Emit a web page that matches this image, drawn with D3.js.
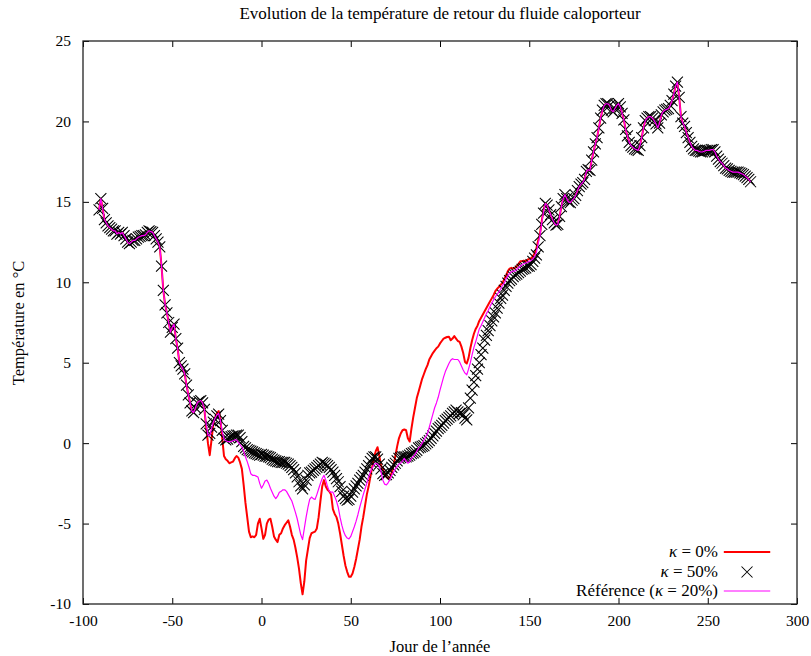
<!DOCTYPE html>
<html><head><meta charset="utf-8">
<script src="https://cdn.jsdelivr.net/npm/d3@7"></script>
<style>
body{margin:0;background:#fff}
svg{display:block}
text{font-family:"Liberation Serif","DejaVu Serif",serif;fill:#000}
</style>
</head><body>
<svg id="c" width="811" height="656"></svg>
<script>
// ---- data ----
const startDay = -91;
// kappa = 50% (crosses), one value per day from day -91
const kappa50 = [
14.5,15.2,14.6,13.9,13.7,13.5,13.4,13.3,13.2,13.2,
13.0,13.1,13.0,13.1,12.9,12.7,12.5,12.4,12.5,12.6,
12.6,12.7,12.8,12.85,12.9,12.9,12.95,13.1,13.2,13.15,
13.1,12.9,12.7,12.5,12.2,11.0,9.5,8.6,8.1,7.5,
6.9,7.2,7.4,6.5,5.9,5.0,4.8,4.6,4.3,3.6,
3.0,2.5,2.0,1.9,2.2,2.5,2.6,2.65,2.5,2.1,
1.2,0.5,0.6,1.0,1.3,1.5,1.7,1.8,1.4,0.8,
0.3,0.2,0.25,0.35,0.4,0.45,0.45,0.5,0.5,0.35,
0.1,-0.2,-0.3,-0.4,-0.45,-0.5,-0.55,-0.6,-0.65,-0.7,
-0.75,-0.7,-0.75,-0.8,-0.8,-0.85,-0.9,-1.0,-1.05,-1.1,
-1.15,-1.15,-1.2,-1.2,-1.2,-1.25,-1.3,-1.4,-1.5,-1.65,
-1.85,-2.1,-2.4,-2.65,-2.85,-2.6,-2.3,-2.0,-1.85,-1.8,
-1.7,-1.6,-1.5,-1.4,-1.3,-1.2,-1.25,-1.3,-1.4,-1.5,
-1.65,-1.8,-2.0,-2.2,-2.4,-2.7,-3.0,-3.3,-3.45,-3.55,
-3.5,-3.3,-3.05,-2.85,-2.65,-2.5,-2.3,-2.15,-2.0,-1.8,
-1.6,-1.4,-1.15,-0.95,-0.85,-0.85,-1.0,-1.3,-1.6,-1.9,
-2.0,-1.95,-1.85,-1.7,-1.5,-1.35,-1.25,-1.1,-0.95,-0.9,
-0.85,-0.85,-0.85,-0.8,-0.75,-0.65,-0.6,-0.55,-0.45,-0.3,
-0.25,-0.2,-0.15,-0.05,0.05,0.15,0.3,0.45,0.6,0.75,
0.9,1.0,1.1,1.25,1.4,1.5,1.6,1.7,1.85,1.95,
2.05,1.95,1.85,1.9,1.75,1.55,1.45,2.2,2.8,3.3,
3.8,4.2,4.6,5.0,5.5,5.9,6.4,6.7,7.0,7.3,
7.6,7.85,8.1,8.4,8.7,9.0,9.2,9.5,9.75,9.95,
10.1,10.2,10.35,10.45,10.5,10.6,10.7,10.8,10.85,10.9,
11.0,11.0,11.1,11.3,11.5,11.7,12.2,12.9,13.6,14.3,
14.9,14.8,14.5,14.2,13.9,13.7,13.55,13.6,14.1,14.7,
15.2,15.45,15.2,15.0,14.95,15.1,15.2,15.4,15.7,15.95,
16.1,16.2,16.4,16.9,17.0,16.95,17.6,18.1,18.6,19.0,
19.6,20.2,20.7,21.0,21.1,21.1,21.0,20.7,20.6,20.8,
21.0,21.1,20.9,20.5,20.1,19.5,19.1,18.7,18.5,18.4,
18.3,18.25,18.2,18.5,19.0,19.6,20.05,20.2,20.3,20.3,
20.2,20.05,19.85,19.6,19.9,20.4,20.6,20.7,20.75,20.8,
21.0,21.3,21.7,22.2,22.45,21.5,20.3,19.9,19.7,19.3,
19.0,18.7,18.45,18.3,18.2,18.2,18.15,18.1,18.1,18.15,
18.2,18.2,18.2,18.25,18.25,18.1,17.85,17.65,17.5,17.4,
17.25,17.1,17.05,16.95,16.9,16.85,16.85,16.85,16.85,16.8,
16.75,16.7,16.6,16.5,16.4,16.25
];
// days where the three curves differ (from day -32 to day 158)
const divStart = -32;
// kappa = 0% (red line)
const kappa0Div = [
2.1,1.0,0.0,-0.75,0.2,1.2,1.6,1.85,2.0,1.5,
0.3,-0.8,-1.0,-1.1,-1.25,-1.2,-1.15,-0.95,-0.8,-0.9,
-1.2,-1.6,-2.6,-3.7,-4.6,-5.5,-5.85,-5.8,-5.85,-5.7,
-5.0,-4.7,-5.3,-5.95,-5.7,-5.0,-4.75,-4.7,-5.2,-5.8,
-6.0,-6.15,-5.7,-5.6,-5.3,-5.1,-4.95,-4.8,-5.2,-5.7,
-6.0,-6.5,-7.1,-7.8,-8.7,-9.4,-8.6,-7.3,-6.6,-5.9,
-5.6,-5.55,-5.5,-5.3,-4.6,-3.6,-2.7,-2.3,-2.7,-2.9,
-3.0,-3.2,-4.1,-4.4,-4.6,-5.0,-5.6,-6.3,-7.0,-7.6,
-8.0,-8.3,-8.3,-8.1,-7.7,-7.2,-6.6,-6.0,-5.2,-4.6,
-3.9,-3.2,-2.7,-2.1,-1.5,-0.9,-0.5,-0.25,-0.8,-1.4,
-1.6,-1.9,-2.1,-2.2,-2.15,-1.8,-1.4,-0.8,-0.2,0.3,
0.6,0.8,0.85,0.8,0.3,0.1,0.9,1.6,2.2,2.8,
3.2,3.6,4.0,4.3,4.6,4.85,5.2,5.4,5.6,5.75,
5.9,6.0,6.2,6.35,6.5,6.55,6.6,6.62,6.4,6.5,
6.65,6.5,6.35,6.3,6.0,5.6,5.05,4.95,5.3,5.9,
6.4,6.8,7.1,7.3,7.6,7.8,8.0,8.2,8.4,8.6,
8.8,9.0,9.2,9.45,9.6,9.7,9.85,9.95,10.2,10.4,
10.7,10.85,10.9,10.85,10.9,11.0,11.15,11.3,11.3,11.35,
11.3,11.4,11.45,11.5,11.6,11.8,12.1,12.6,13.0,13.8,
14.5
];
// Référence, kappa = 20% (magenta line)
const refDiv = [
2.1,1.2,0.5,0.45,0.9,1.3,1.55,1.75,1.85,1.4,
0.7,0.25,0.15,0.1,0.1,0.1,0.15,0.2,0.2,0.05,
-0.1,-0.25,-0.5,-0.85,-1.15,-1.5,-1.9,-2.0,-2.0,-2.05,
-2.1,-2.5,-2.8,-2.6,-2.35,-2.3,-2.5,-2.8,-3.05,-3.3,
-3.45,-3.3,-3.05,-3.0,-2.9,-2.9,-3.0,-3.2,-3.4,-3.6,
-3.95,-4.3,-4.7,-5.2,-5.7,-6.0,-5.3,-4.6,-4.0,-3.5,
-3.35,-3.45,-3.5,-3.2,-2.85,-2.5,-2.2,-2.0,-2.3,-2.7,
-3.0,-3.05,-3.05,-3.3,-3.6,-4.0,-4.6,-5.1,-5.5,-5.75,
-5.9,-5.95,-5.8,-5.5,-5.2,-4.85,-4.45,-4.0,-3.6,-3.2,
-2.85,-2.5,-2.1,-1.8,-1.55,-1.35,-1.25,-1.3,-1.45,-1.8,
-2.3,-2.55,-2.6,-2.45,-2.25,-2.0,-1.8,-1.6,-1.45,-1.3,
-1.25,-1.1,-0.95,-1.1,-1.25,-1.15,-0.95,-0.85,-0.7,-0.5,
-0.3,-0.2,0.0,0.2,0.4,0.6,1.0,1.4,1.8,2.2,
2.5,2.85,3.3,3.7,4.1,4.45,4.7,4.95,5.15,5.25,
5.2,5.2,5.2,5.05,4.8,4.55,4.35,4.25,4.6,5.0,
5.5,5.95,6.3,6.7,7.1,7.3,7.55,7.8,8.05,8.25,
8.5,8.7,8.9,9.1,9.25,9.4,9.6,9.8,9.95,10.2,
10.4,10.55,10.65,10.7,10.7,10.8,10.9,11.0,11.1,11.15,
11.2,11.25,11.3,11.35,11.45,11.6,11.85,12.4,12.9,13.7,
14.4
];
const xTicks = [-100,-50,0,50,100,150,200,250,300];
const yTicks = [-10,-5,0,5,10,15,20,25];
const legendLabels = ["κ = 0%", "κ = 50%", "Référence (κ = 20%)"];

// ---- build series ----
const days = kappa50.map((_, i) => startDay + i);
function withDiv(div) {
  return days.map((d, i) => {
    const j = d - divStart;
    return {d, v: (j >= 0 && j < div.length) ? div[j] : kappa50[i]};
  });
}
const s50 = days.map((d, i) => ({d, v: kappa50[i]}));
const s0 = withDiv(kappa0Div);
const sRef = withDiv(refDiv);

// ---- chart ----
const L = 83, R = 797, T = 41, B = 604;
const svg = d3.select("#c");
const x = d3.scaleLinear().domain([-100, 300]).range([L, R]);
const y = d3.scaleLinear().domain([-10, 25]).range([B, T]);

svg.append("defs").append("clipPath").attr("id", "clip")
  .append("rect").attr("x", L).attr("y", T).attr("width", R - L).attr("height", B - T);

const fmt = d => String(d);
const axB = svg.append("g").attr("transform", `translate(0,${B})`)
  .call(d3.axisBottom(x).tickValues(xTicks).tickSize(-6).tickSizeOuter(0).tickPadding(11).tickFormat(fmt));
const axT = svg.append("g").attr("transform", `translate(0,${T})`)
  .call(d3.axisTop(x).tickValues(xTicks).tickSize(-6).tickSizeOuter(0).tickFormat(""));
const axL = svg.append("g").attr("transform", `translate(${L},0)`)
  .call(d3.axisLeft(y).tickValues(yTicks).tickSize(-6).tickSizeOuter(0).tickPadding(12).tickFormat(fmt));
const axR = svg.append("g").attr("transform", `translate(${R},0)`)
  .call(d3.axisRight(y).tickValues(yTicks).tickSize(-6).tickSizeOuter(0).tickFormat(""));
[axB, axT, axL, axR].forEach(g => {
  g.attr("font-family", null);
  g.select(".domain").remove();
  g.selectAll(".tick line").attr("stroke", "#000").attr("stroke-width", 1);
  g.selectAll(".tick text").attr("font-size", 15.5).attr("fill", "#000");
});

svg.append("rect").attr("x", L).attr("y", T).attr("width", R - L).attr("height", B - T)
  .attr("fill", "none").attr("stroke", "#222").attr("stroke-width", 1.3);

const line = d3.line().x(p => x(p.d)).y(p => y(p.v));
const plot = svg.append("g").attr("clip-path", "url(#clip)");

plot.append("path").datum(s0).attr("d", line)
  .attr("fill", "none").attr("stroke", "#ff0000").attr("stroke-width", 2).attr("stroke-linejoin", "round");

const cross = "M-5.5,-5.5L5.5,5.5M-5.5,5.5L5.5,-5.5";
plot.append("g").selectAll("path").data(s50).join("path")
  .attr("d", cross).attr("transform", p => `translate(${x(p.d)},${y(p.v)})`)
  .attr("stroke", "#000").attr("stroke-width", 1.05).attr("fill", "none");

plot.append("path").datum(sRef).attr("d", line)
  .attr("fill", "none").attr("stroke", "#ff00ff").attr("stroke-width", 1.2).attr("stroke-linejoin", "round");

// title & labels
svg.append("text").attr("x", 440).attr("y", 19).attr("text-anchor", "middle")
  .attr("font-size", 17).text("Evolution de la température de retour du fluide caloporteur");
svg.append("text").attr("x", 440).attr("y", 652).attr("text-anchor", "middle")
  .attr("font-size", 16.5).text("Jour de l’année");
svg.append("text").attr("transform", "translate(24,323) rotate(-90)").attr("text-anchor", "middle")
  .attr("font-size", 16.5).text("Température en °C");

// legend
const legY = [552, 572, 591];
function legText(i) {
  const t = svg.append("text").attr("x", 718).attr("y", legY[i] + 5).attr("text-anchor", "end").attr("font-size", 17);
  const parts = legendLabels[i].split("κ");
  t.append("tspan").text(parts[0]);
  t.append("tspan").attr("font-style", "italic").text("κ");
  t.append("tspan").text(parts[1]);
}
[0, 1, 2].forEach(legText);
svg.append("line").attr("x1", x(259)).attr("x2", x(285)).attr("y1", legY[0]).attr("y2", legY[0])
  .attr("stroke", "#ff0000").attr("stroke-width", 2);
svg.append("path").attr("d", cross).attr("transform", `translate(${x(272)},${legY[1]})`)
  .attr("stroke", "#000").attr("stroke-width", 1.05).attr("fill", "none");
svg.append("line").attr("x1", x(259)).attr("x2", x(285)).attr("y1", legY[2]).attr("y2", legY[2])
  .attr("stroke", "#ff00ff").attr("stroke-width", 1.2);
</script>
</body></html>
